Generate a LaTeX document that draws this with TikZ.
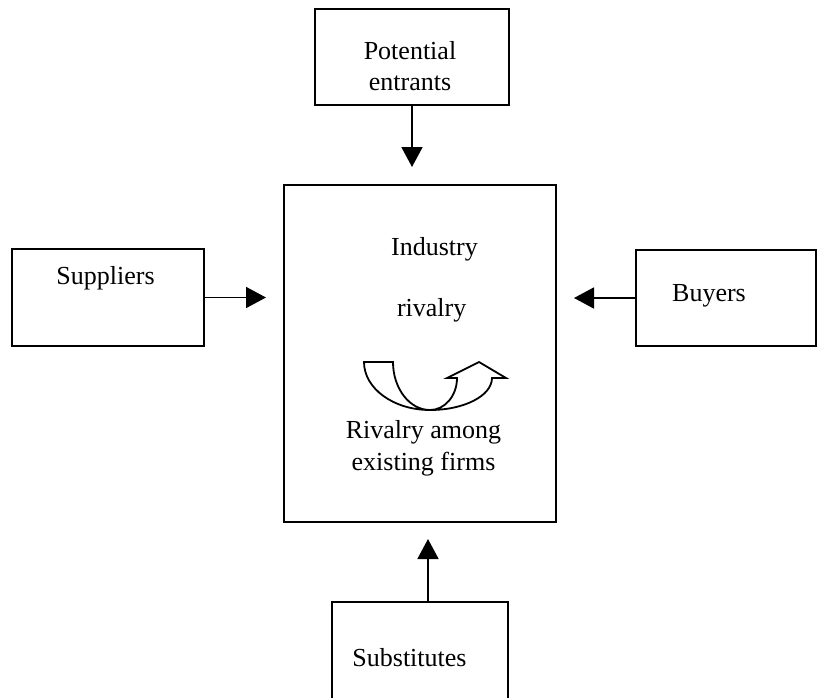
\documentclass[tikz,border=0pt]{standalone}
\usepackage{fontspec}
\setmainfont{Liberation Serif}
\usetikzlibrary{arrows.meta}
\begin{document}
\begin{tikzpicture}[x=1pt,y=-1pt,
  box/.style={draw, line width=2pt, rectangle, inner sep=0pt},
  lbl/.style={anchor=base, inner sep=0pt, font=\fontsize{26}{30}\selectfont},
  arr/.style={line width=1.8pt, -{Triangle[length=20pt,width=21pt]}},
  band/.style={draw, line width=1.8pt, fill=white, line join=miter}]
\useasboundingbox (0,0) rectangle (817,697);

% boxes
\node[box, minimum width=272pt, minimum height=337pt] (main) at (420,353.5) {};
\node[box, minimum width=194pt, minimum height=96pt] (pe) at (412,57) {};
\node[box, minimum width=192pt, minimum height=97pt] (sup) at (108,297.5) {};
\node[box, minimum width=180pt, minimum height=96pt] (buy) at (726,298) {};
\node[box, minimum width=176pt, minimum height=120pt] (sub) at (420,662) {};

% labels
\node[lbl] (t1) at (410,59) {Potential};
\node[lbl] (t2) at (410,90) {entrants};
\node[lbl] (t3) at (105.5,284) {Suppliers};
\node[lbl] (t4) at (709,301) {Buyers};
\node[lbl] (t5) at (409.5,666) {Substitutes};
\node[lbl] (t6) at (434.5,255) {Industry};
\node[lbl] (t7) at (431.7,316) {rivalry};
\node[lbl] (t8) at (423.4,438) {Rivalry among};
\node[lbl] (t9) at (423.5,470) {existing firms};

% forces acting on the industry
\draw[arr, shorten >=17pt] (pe.south) -- (pe.south |- main.north);
\draw[arr, shorten >=17pt] (sup.east) -- (sup.east -| main.west);
\draw[arr, shorten >=17pt] (buy.west) -- (buy.west -| main.east);
\coordinate (sb) at ([xshift=8pt]sub.north);
\draw[arr, shorten >=16pt] (sb) -- (sb |- main.south);

% curved rivalry arrow
\draw[band] (364,362) -- (393,362)
  .. controls (393,388.5) and (409.6,410) .. (430,410)
  .. controls (393.5,410) and (364,388.5) .. (364,362) -- cycle;
\draw[band] (430,410)
  .. controls (464.2,410) and (492,395.7) .. (492,378)
  -- (506,378) -- (479,362) -- (447,378) -- (457,378)
  .. controls (457,395.7) and (444.9,410) .. (430,410) -- cycle;
\end{tikzpicture}
\end{document}
